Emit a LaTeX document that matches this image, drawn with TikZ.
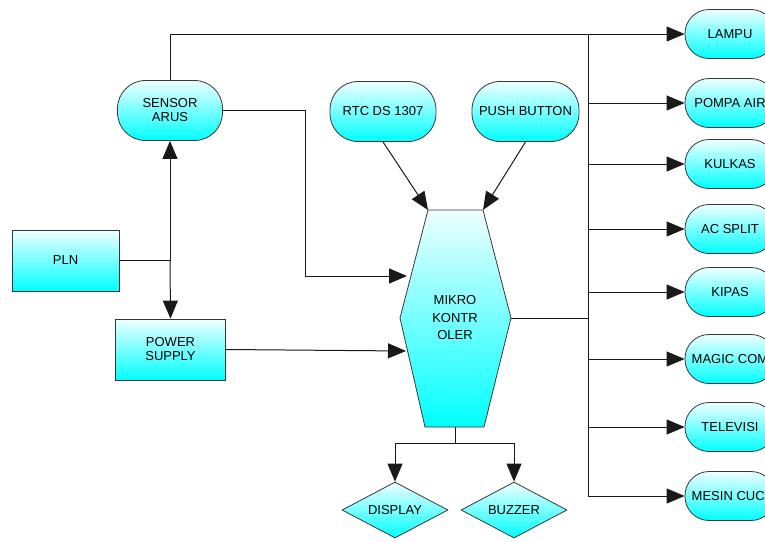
\documentclass[tikz,border=0pt]{standalone}
\usepackage{fontspec}
\setmainfont{Liberation Sans}
\usetikzlibrary{shapes.geometric,arrows.meta}
\definecolor{cyantop}{RGB}{238,255,255}
\definecolor{cyanbot}{RGB}{0,255,255}
\definecolor{edgecol}{RGB}{55,55,55}
\definecolor{linecol}{RGB}{25,25,25}
\tikzset{
  grad/.style={top color=cyantop, bottom color=cyanbot, draw=edgecol, line width=0.8pt},
  lbl/.style={font=\fontsize{13}{14}\selectfont, align=center, inner sep=0pt, text=black},
  stadium/.style={grad, lbl, rectangle, rounded corners=28pt, minimum width=105pt, minimum height=60pt},
  outnode/.style={grad, lbl, rectangle, rounded corners=24pt, minimum width=90pt, minimum height=49pt},
  boxnode/.style={grad, lbl, rectangle, minimum width=107pt, minimum height=61pt},
  dia/.style={grad, lbl, diamond, aspect=1.9, minimum width=106pt, minimum height=56pt},
  conn/.style={draw=linecol, line width=1pt},
  arr/.style={conn, -{Triangle[length=18pt,width=15pt]}},
}
\begin{document}
\begin{tikzpicture}[x=1pt,y=-1pt]
\useasboundingbox (0,0) rectangle (765,541);
\clip (0,0) rectangle (765,541);

% left side
\node[stadium] (sa) at (170,110.5) {SENSOR\\ARUS};
\node[boxnode] (pln) at (65.5,260.5) {PLN};
\node[boxnode, minimum width=110pt] (ps) at (170.5,349.5) {POWER\\SUPPLY};

% inputs
\node[stadium, minimum width=106pt] (rtc) at (383,111.5) {RTC DS 1307};
\node[stadium, minimum width=107pt] (pb) at (525.5,111.5) {PUSH BUTTON};

% microcontroller hexagon
\path[grad] (428,210) -- (483,210) -- (511,318) -- (484,427) -- (425,427) -- (400,318) -- cycle;
\node[lbl, font=\fontsize{13}{17.5}\selectfont] (mk) at (455,318) {MIKRO\\KONTR\\OLER};
\coordinate (mktl) at (428,210);
\coordinate (mktr) at (483,210);
\coordinate (mkr) at (511,318);
\coordinate (in1) at (407,276);
\coordinate (in2) at (406,351);
\coordinate (hb) at (455,427);
\coordinate (hs) at (455,443);

% outputs (bottom)
\node[dia] (disp) at (395,510) {DISPLAY};
\node[dia] (buz) at (514,510) {BUZZER};

% outputs (right)
\node[outnode] (o1) at (730,34) {LAMPU};
\node[outnode] (o2) at (730,103) {POMPA AIR};
\node[outnode] (o3) at (730,164) {KULKAS};
\node[outnode] (o4) at (730,229) {AC SPLIT};
\node[outnode] (o5) at (730,292) {KIPAS};
\node[outnode] (o6) at (730,359) {MAGIC COM};
\node[outnode] (o7) at (730,427) {TELEVISI};
\node[outnode] (o8) at (730,496) {MESIN CUCI};

% bus coordinates
\coordinate (bt) at (588,34);
\coordinate (bm) at (588,318);
\coordinate (b2) at (588,103);
\coordinate (b3) at (588,164);
\coordinate (b4) at (588,229);
\coordinate (b5) at (588,292);
\coordinate (b6) at (588,359);
\coordinate (b7) at (588,427);
\coordinate (b8) at (588,496);

% connectors left
\coordinate (j) at (170,260.5);
\coordinate (k1) at (305,276);
\draw[conn] (pln.east) -- (j);
\draw[arr] (j) -- (sa.south);
\draw[arr] (j) -- (ps.north);
\draw[arr] (sa.east) -| (k1) -- (in1);
\draw[arr] (ps.east) -- (in2);
\draw[arr] (sa.north) |- (o1.west);

% inputs to MK
\draw[arr] (rtc.south) -- (mktl);
\draw[arr] (pb.south) -- (mktr);

% MK to bottom
\draw[conn] (hb) -- (hs);
\draw[arr] (hs) -| (disp.north);
\draw[arr] (hs) -| (buz.north);

% MK to bus
\draw[conn] (mkr) -- (bm);
\draw[conn] (bt) -- (b8);
\draw[arr] (b2) -- (o2.west);
\draw[arr] (b3) -- (o3.west);
\draw[arr] (b4) -- (o4.west);
\draw[arr] (b5) -- (o5.west);
\draw[arr] (b6) -- (o6.west);
\draw[arr] (b7) -- (o7.west);
\draw[arr] (b8) -- (o8.west);
\end{tikzpicture}
\end{document}
